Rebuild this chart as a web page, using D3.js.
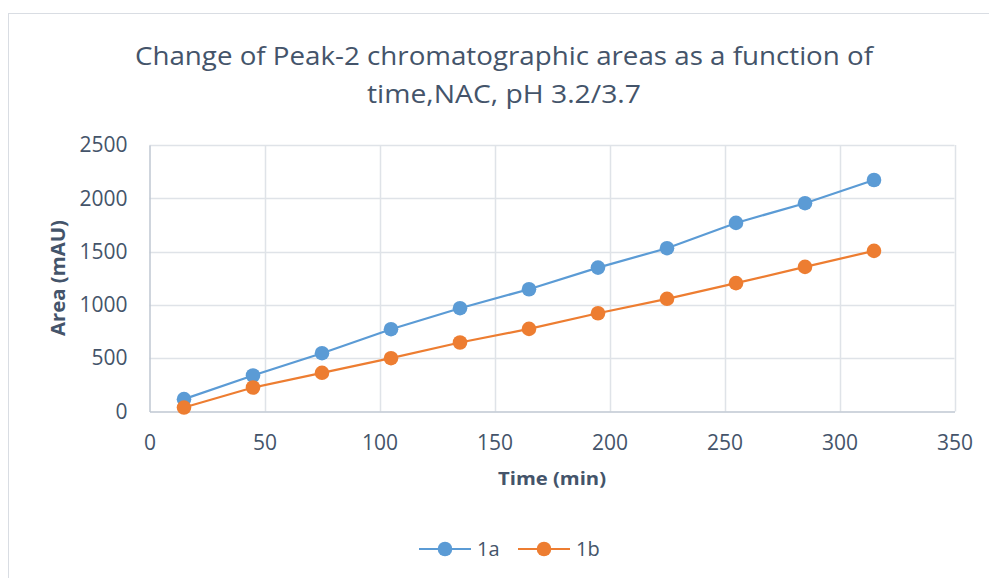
<!DOCTYPE html>
<html>
<head>
<meta charset="utf-8">
<script src="https://cdn.jsdelivr.net/npm/d3@7/dist/d3.min.js"></script>
<style>
  html, body { margin: 0; padding: 0; background: #fff; }
  svg { display: block; }
  text { font-family: "Open Sans", "Noto Sans", sans-serif; fill: #44546A; }
</style>
</head>
<body>
<svg id="chart" width="989" height="578"></svg>
<script>
// Sampling times (min)
const times = [15, 45, 75, 105, 135, 165, 195, 225, 255, 285, 315];
// Peak-2 chromatographic areas (mAU)
const area1a = [116, 338, 547, 772, 969, 1147, 1350, 1532, 1769, 1954, 2172];
const area1b = [37, 225, 363, 500, 647, 775, 922, 1057, 1204, 1357, 1507];
const seriesNames = ["1a", "1b"];
const seriesColors = ["#5B9BD5", "#ED7D31"];
const xTicks = [0, 50, 100, 150, 200, 250, 300, 350];
const yTicks = [0, 500, 1000, 1500, 2000, 2500];
const titleLines = ["Change of Peak-2 chromatographic areas as a function of", "time,NAC, pH 3.2/3.7"];

const svg = d3.select("#chart");

// chart frame
svg.append("rect")
  .attr("x", 8.5).attr("y", 13.5)
  .attr("width", 1000).attr("height", 600)
  .attr("fill", "#fff").attr("stroke", "#D9DDE3").attr("stroke-width", 1);

const plot = { left: 149.5, right: 954.5, top: 145, bottom: 411.5 };

const x = d3.scaleLinear().domain([0, 350]).range([plot.left, plot.right]);
const y = d3.scaleLinear().domain([0, 2500]).range([plot.bottom, plot.top]);

// gridlines
const grid = svg.append("g");
grid.selectAll("line.h").data(yTicks.filter(d => d > 0)).join("line")
  .attr("x1", plot.left).attr("x2", plot.right)
  .attr("y1", d => Math.round(y(d)) + 0.5).attr("y2", d => Math.round(y(d)) + 0.5)
  .attr("stroke", "#DFE3E8").attr("stroke-width", 1.5);
grid.selectAll("line.v").data(xTicks.filter(d => d > 0)).join("line")
  .attr("x1", d => Math.round(x(d)) + 0.5).attr("x2", d => Math.round(x(d)) + 0.5)
  .attr("y1", plot.top).attr("y2", plot.bottom)
  .attr("stroke", "#DFE3E8").attr("stroke-width", 1.5);

// axes
const fmt = d3.format("d");
const xAxis = svg.append("g")
  .attr("transform", `translate(0,${plot.bottom})`)
  .call(d3.axisBottom(x).tickValues(xTicks).tickFormat(fmt).tickSize(0).tickPadding(24));
const yAxis = svg.append("g")
  .attr("transform", `translate(${plot.left},0)`)
  .call(d3.axisLeft(y).tickValues(yTicks).tickFormat(fmt).tickSize(0).tickPadding(22));
[xAxis, yAxis].forEach(a => {
  a.select(".domain").attr("stroke", "#BFC7D2").attr("stroke-width", 1.5);
  a.selectAll("text").style("font-size", "21px").attr("fill", "#44546A")
   .style("font-family", "'Open Sans', sans-serif");
});

// series lines and markers
const seriesData = [area1a, area1b];
const line = d3.line().x((d, i) => x(times[i])).y(d => y(d));
seriesData.forEach((vals, s) => {
  svg.append("path").datum(vals)
    .attr("d", line).attr("fill", "none")
    .attr("stroke", seriesColors[s]).attr("stroke-width", 2.2);
  svg.append("g").selectAll("circle").data(vals).join("circle")
    .attr("cx", (d, i) => x(times[i])).attr("cy", d => y(d)).attr("r", 7.3)
    .attr("fill", seriesColors[s]);
});

// title
svg.selectAll("text.title").data(titleLines).join("text")
  .attr("class", "title")
  .attr("x", 504).attr("y", (d, i) => 65 + i * 38)
  .attr("text-anchor", "middle")
  .attr("textLength", (d, i) => i === 0 ? 738 : 274)
  .attr("lengthAdjust", "spacingAndGlyphs")
  .style("font-size", "26px")
  .text(d => d);

// axis titles
svg.append("text")
  .attr("x", 552).attr("y", 485)
  .attr("text-anchor", "middle")
  .style("font-size", "18px").style("font-weight", "bold")
  .attr("textLength", 108).attr("lengthAdjust", "spacingAndGlyphs")
  .text("Time (min)");
svg.append("text")
  .attr("transform", "translate(65,278) rotate(-90)")
  .attr("text-anchor", "middle")
  .style("font-size", "19px").style("font-weight", "bold")
  .attr("textLength", 116).attr("lengthAdjust", "spacingAndGlyphs")
  .text("Area (mAU)");

// legend
const legendX = [419, 518];
const legendY = 549;
seriesNames.forEach((name, s) => {
  const g = svg.append("g");
  g.append("line")
    .attr("x1", legendX[s]).attr("x2", legendX[s] + 52)
    .attr("y1", legendY).attr("y2", legendY)
    .attr("stroke", seriesColors[s]).attr("stroke-width", 2.2);
  g.append("circle")
    .attr("cx", legendX[s] + 26).attr("cy", legendY).attr("r", 7.3)
    .attr("fill", seriesColors[s]);
  g.append("text")
    .attr("x", legendX[s] + 58).attr("y", legendY + 7)
    .style("font-size", "20px")
    .text(name);
});
</script>
</body>
</html>
